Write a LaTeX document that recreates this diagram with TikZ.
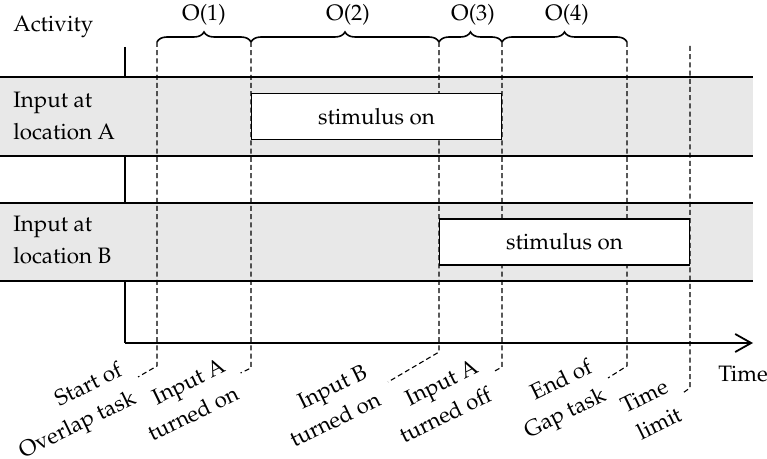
\documentclass[tikz,border=0pt]{standalone}
\usepackage[T1]{fontenc}
\usepackage{mathpazo}
\usetikzlibrary{arrows.meta,decorations.pathreplacing,calc}
\definecolor{bandgray}{HTML}{E8E8E8}
\newcommand\evtwo[2]{\begin{tabular}[t]{@{}r@{}}#1\\#2\end{tabular}}
\begin{document}
\begin{tikzpicture}[x=0.5bp,y=-0.5bp,
  txt/.style={font=\fontsize{11.2}{16.5}\selectfont, inner sep=0pt},
  rowlabel/.style={txt, align=left, anchor=base west},
  bandline/.style={line width=0.6pt},
  axisline/.style={line width=0.9pt},
  guide/.style={dash pattern=on 2.5bp off 1.6bp, line width=0.55pt},
  stim/.style={txt, draw, fill=white, line width=0.8pt, minimum width=125bp, minimum height=23bp},
  obrace/.style={decorate, decoration={brace, amplitude=5bp}, line width=0.8pt},
  evlabel/.style={font=\fontsize{11.2}{15.5}\selectfont, inner sep=0pt, anchor=base east, rotate=26}]
\useasboundingbox (0,0) rectangle (767,459);

% axes corner and ends
\coordinate (ytop) at (125,47);
\coordinate (orig) at (125,343);
\coordinate (xend) at (753,343);
\draw[axisline] (ytop) -- (orig);

% bands
\fill[bandgray] (0,77) rectangle (753,156);
\fill[bandgray] (0,203) rectangle (753,281);
\draw[bandline] (0,77) -- (753,77) (0,156) -- (753,156);
\draw[bandline] (0,203) -- (753,203) (0,281) -- (753,281);

% guide coordinates (top, bottom, dash end, label anchor)
\coordinate (t1) at (157,42);  \coordinate (b1) at (157,366); \coordinate (e1) at (138,377);   \coordinate (a1) at (124,375);
\coordinate (t2) at (251,42);  \coordinate (b2) at (251,368); \coordinate (e2) at (240.6,373); \coordinate (a2) at (227,371);
\coordinate (t3) at (439,42);  \coordinate (b3) at (439,352); \coordinate (e3) at (388,382);   \coordinate (a3) at (369,377);
\coordinate (t4) at (502,42);  \coordinate (b4) at (502,367); \coordinate (e4) at (493,372);   \coordinate (a4) at (480,372);
\coordinate (t5) at (627,42);  \coordinate (b5) at (627,366); \coordinate (e5) at (608,378);   \coordinate (a5) at (594,372);
\coordinate (t6) at (690,46);  \coordinate (b6) at (690,388); \coordinate (e6) at (682,393.5); \coordinate (a6) at (670,392);

\foreach \i in {1,...,6} {\draw[guide] (t\i) -- (b\i) -- (e\i);}

% stimulus boxes
\node[stim] (stimA) at (376.5,116.5) {stimulus on};
\node[stim] (stimB) at (564.5,242) {stimulus on};

% time axis
\draw[axisline, -{Straight Barb[length=8bp,width=9bp]}] (orig) -- (xend);

% braces
\draw[obrace] (t1) -- (t2);
\draw[obrace] (t2) -- (t3);
\draw[obrace] (t3) -- (t4);
\draw[obrace] (t4) -- (t5);
\node[txt, anchor=base] (o1) at (204,21) {O(1)};
\node[txt, anchor=base] (o2) at (348,21) {O(2)};
\node[txt, anchor=base] (o3) at (473,21) {O(3)};
\node[txt, anchor=base] (o4) at (567,21) {O(4)};

% row labels
\node[rowlabel] (act) at (13,32) {Activity};
\node[rowlabel] (inA) at (13,140) {Input at\\location A};
\node[rowlabel] (inB) at (13,264) {Input at\\location B};
\node[txt, anchor=base west] (time) at (718,382) {Time};

% event labels
\node[evlabel] (l1) at (a1) {\evtwo{Start of}{Overlap task}};
\node[evlabel] (l2) at (a2) {\evtwo{Input A}{turned on}};
\node[evlabel] (l3) at (a3) {\evtwo{Input B}{turned on}};
\node[evlabel] (l4) at (a4) {\evtwo{Input A}{turned off}};
\node[evlabel] (l5) at (a5) {\evtwo{End of}{Gap task}};
\node[evlabel] (l6) at (a6) {\evtwo{Time}{limit}};
\end{tikzpicture}
\end{document}
